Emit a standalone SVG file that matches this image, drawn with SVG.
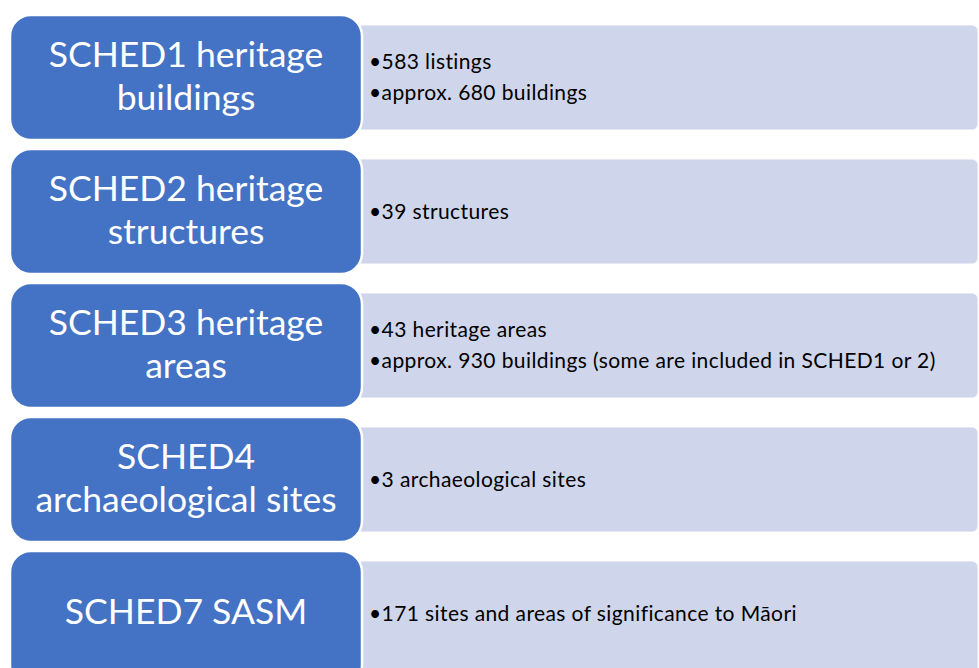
<svg xmlns="http://www.w3.org/2000/svg" width="979" height="668" viewBox="0 0 979 668">
  <style>
    .detail { fill: #CFD5EA; stroke: #FFFFFF; stroke-opacity: 0.6; stroke-width: 1.5; }
    .head { fill: #4472C4; stroke: #FFFFFF; stroke-width: 2.5; }
    .htxt { font-family: Lato, "Open Sans", sans-serif; font-size: 35.5px; fill: #FFFFFF; text-anchor: middle; }
    .btxt { font-family: Lato, "Open Sans", sans-serif; font-size: 21px; letter-spacing: 0.4px; fill: #000000; }
  </style>
  <rect width="979" height="668" fill="#FFFFFF"/>

  <!-- Row 1 -->
  <g id="sched1">
    <rect class="detail" x="340" y="25" width="638" height="105" rx="6"/>
    <rect class="head" x="10" y="15" width="352" height="125" rx="21"/>
    <text class="htxt" x="186" y="67">SCHED1 heritage</text>
    <text class="htxt" x="186" y="110">buildings</text>
    <text class="btxt" x="369" y="69">•583 listings</text>
    <text class="btxt" x="369" y="100">•approx. 680 buildings</text>
  </g>

  <!-- Row 2 -->
  <g id="sched2">
    <rect class="detail" x="340" y="159" width="638" height="105" rx="6"/>
    <rect class="head" x="10" y="149" width="352" height="125" rx="21"/>
    <text class="htxt" x="186" y="201">SCHED2 heritage</text>
    <text class="htxt" x="186" y="244">structures</text>
    <text class="btxt" x="369" y="219">•39 structures</text>
  </g>

  <!-- Row 3 -->
  <g id="sched3">
    <rect class="detail" x="340" y="293" width="638" height="105" rx="6"/>
    <rect class="head" x="10" y="283" width="352" height="125" rx="21"/>
    <text class="htxt" x="186" y="335">SCHED3 heritage</text>
    <text class="htxt" x="186" y="378">areas</text>
    <text class="btxt" x="369" y="337">•43 heritage areas</text>
    <text class="btxt" x="369" y="368">•approx. 930 buildings (some are included in SCHED1 or 2)</text>
  </g>

  <!-- Row 4 -->
  <g id="sched4">
    <rect class="detail" x="340" y="427" width="638" height="105" rx="6"/>
    <rect class="head" x="10" y="417" width="352" height="125" rx="21"/>
    <text class="htxt" x="186" y="469">SCHED4</text>
    <text class="htxt" x="186" y="512">archaeological sites</text>
    <text class="btxt" x="369" y="487">•3 archaeological sites</text>
  </g>

  <!-- Row 5 -->
  <g id="sched7">
    <rect class="detail" x="340" y="561" width="638" height="120" rx="6"/>
    <rect class="head" x="10" y="551" width="352" height="135" rx="21"/>
    <text class="htxt" x="186" y="624">SCHED7 SASM</text>
    <text class="btxt" x="369" y="621">•171 sites and areas of significance to Māori</text>
  </g>

  <!-- no connectors between rows -->
  <g id="connectors"/>
</svg>
